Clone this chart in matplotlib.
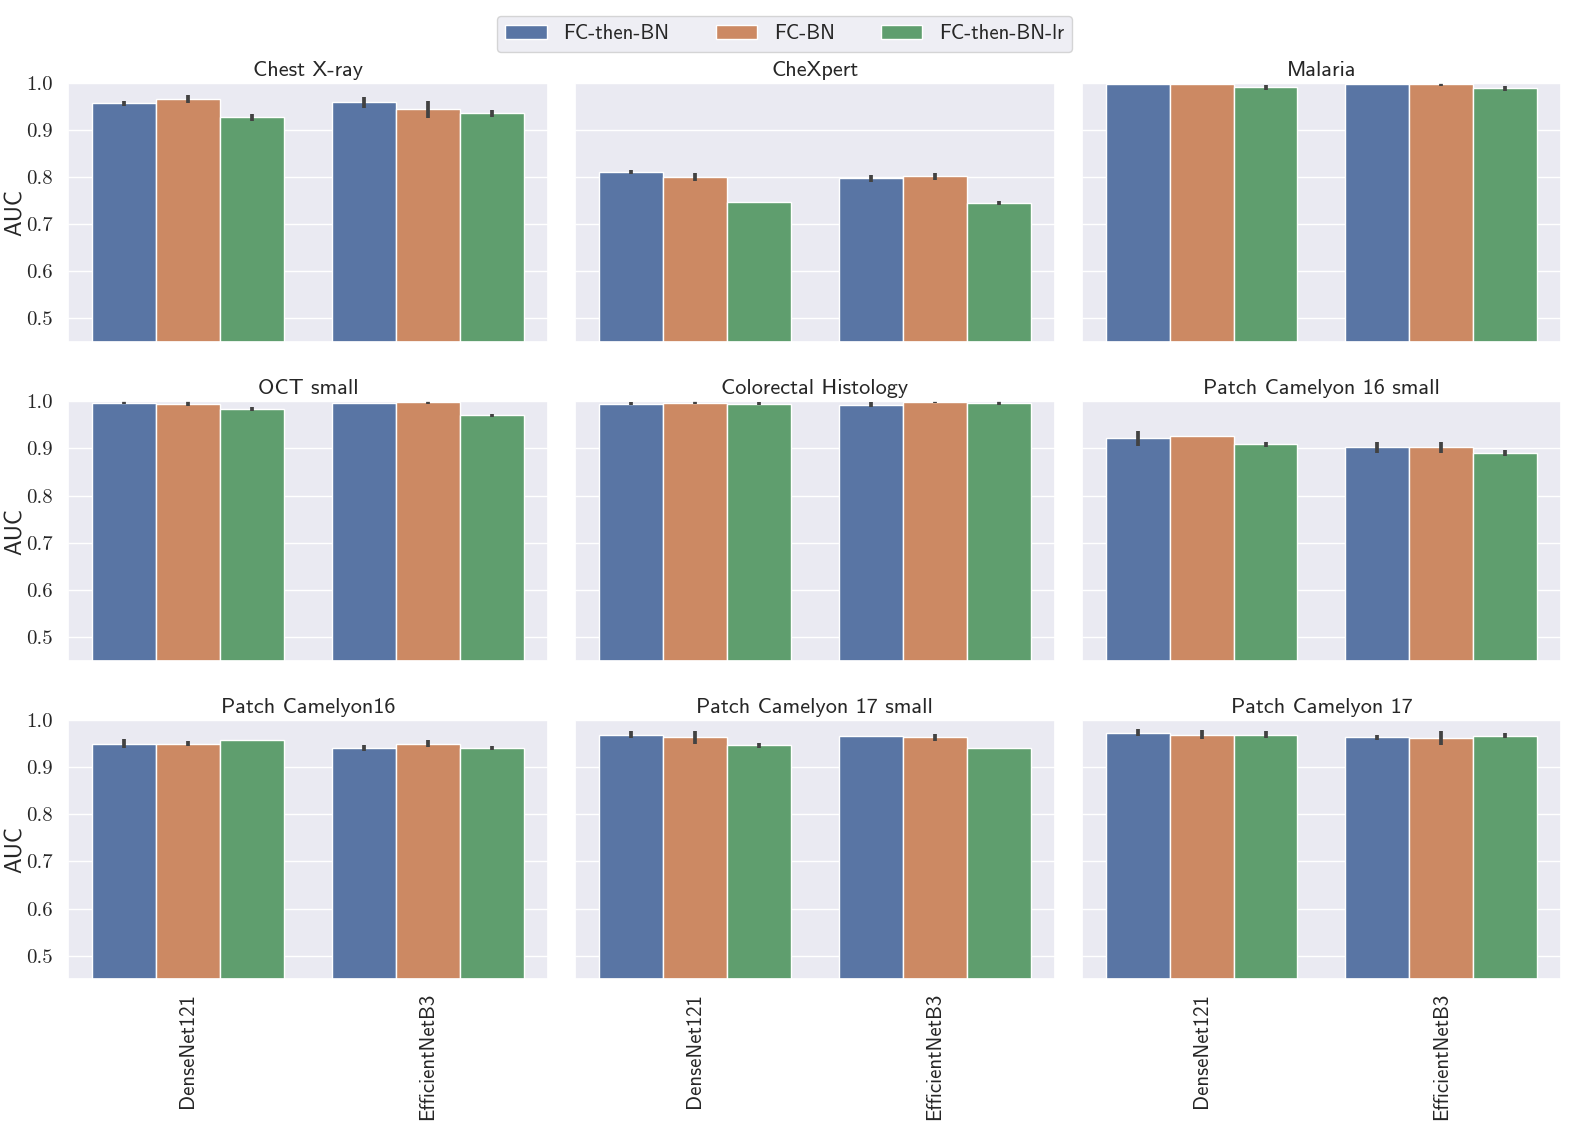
import numpy as np
import matplotlib
matplotlib.use("Agg")
import matplotlib.pyplot as plt
import matplotlib.ticker as mticker
import seaborn as sns

datasets = ['Chest X-ray', 'CheXpert', 'Malaria',
            'OCT small', 'Colorectal Histology', 'Patch Camelyon 16 small',
            'Patch Camelyon16', 'Patch Camelyon 17 small', 'Patch Camelyon 17']
models = ['DenseNet121', 'EfficientNetB3']
methods = ['FC-then-BN', 'FC-BN', 'FC-then-BN-lr']

# mean AUC per dataset, [DenseNet121, EfficientNetB3]
auc_fc_then_bn = [[0.956, 0.958], [0.810, 0.797], [0.996, 0.996],
                  [0.997, 0.997], [0.995, 0.993], [0.922, 0.902],
                  [0.950, 0.940], [0.969, 0.965], [0.973, 0.963]]
auc_fc_bn = [[0.965, 0.943], [0.800, 0.801], [0.996, 0.996],
             [0.995, 0.999], [0.997, 0.999], [0.926, 0.902],
             [0.950, 0.950], [0.963, 0.963], [0.969, 0.961]]
auc_fc_then_bn_lr = [[0.926, 0.935], [0.746, 0.745], [0.990, 0.988],
                     [0.983, 0.970], [0.995, 0.997], [0.909, 0.891],
                     [0.957, 0.940], [0.946, 0.940], [0.969, 0.967]]

# half width of the error bars
err_fc_then_bn = [[0.005, 0.011], [0.004, 0.007], [0.0, 0.0],
                  [0.003, 0.0], [0.003, 0.005], [0.016, 0.011],
                  [0.009, 0.006], [0.007, 0.0], [0.008, 0.006]]
err_fc_bn = [[0.0085, 0.018], [0.008, 0.008], [0.0, 0.003],
             [0.006, 0.004], [0.003, 0.003], [0.0, 0.011],
             [0.005, 0.007], [0.014, 0.007], [0.009, 0.015]]
err_fc_then_bn_lr = [[0.007, 0.007], [0.0, 0.005], [0.005, 0.005],
                     [0.004, 0.004], [0.003, 0.004], [0.005, 0.006],
                     [0.0, 0.004], [0.005, 0.0], [0.007, 0.005]]

sns.set_theme(style='darkgrid')
plt.rcParams['font.family'] = ['cmss10', 'DejaVu Sans']
plt.rcParams['axes.unicode_minus'] = False

colors = [sns.desaturate(c, 0.75) for c in sns.color_palette('deep')[:3]]
means = [auc_fc_then_bn, auc_fc_bn, auc_fc_then_bn_lr]
errs = [err_fc_then_bn, err_fc_bn, err_fc_then_bn_lr]

fig, axes = plt.subplots(3, 3, figsize=(15.82, 11.31), dpi=100, sharex=True, sharey=True)
fig.subplots_adjust(left=0.043, right=0.987, top=0.927, bottom=0.134,
                    wspace=0.056, hspace=0.228)

x = np.arange(len(models))
width = 0.8 / len(methods)
for i, ax in enumerate(axes.flat):
    for j, name in enumerate(methods):
        pos = x - 0.4 + width * (j + 0.5)
        ax.bar(pos, means[j][i], width, yerr=errs[j][i], color=colors[j],
               edgecolor='white', linewidth=1, label=name,
               error_kw=dict(ecolor='.26', elinewidth=2.7, capsize=0))
    ax.set_title(datasets[i], fontsize=16, pad=5)
    ax.set_ylim(0.45, 1.0)
    ax.set_xlim(-0.5, 1.5)
    ax.set_yticks([0.5, 0.6, 0.7, 0.8, 0.9, 1.0])
    ax.yaxis.set_major_formatter(mticker.FormatStrFormatter('%.1f'))
    ax.tick_params(axis='y', labelsize=15, labelfontfamily='cmr10', pad=5)
    ax.set_xticks(x)
    ax.set_xticklabels(models, rotation=90, fontsize=15)
    ax.grid(axis='x', visible=False)
    if i % 3 == 0:
        ax.set_ylabel('AUC', fontsize=17)
        ax.yaxis.set_label_coords(-0.085, 0.5)

handles, labels = axes[0, 0].get_legend_handles_labels()
fig.legend(handles, labels, loc='center', bbox_to_anchor=(0.496, 0.97), ncol=3,
           fontsize=15, columnspacing=2.2, frameon=True)

plt.savefig('out.png', dpi=100)
